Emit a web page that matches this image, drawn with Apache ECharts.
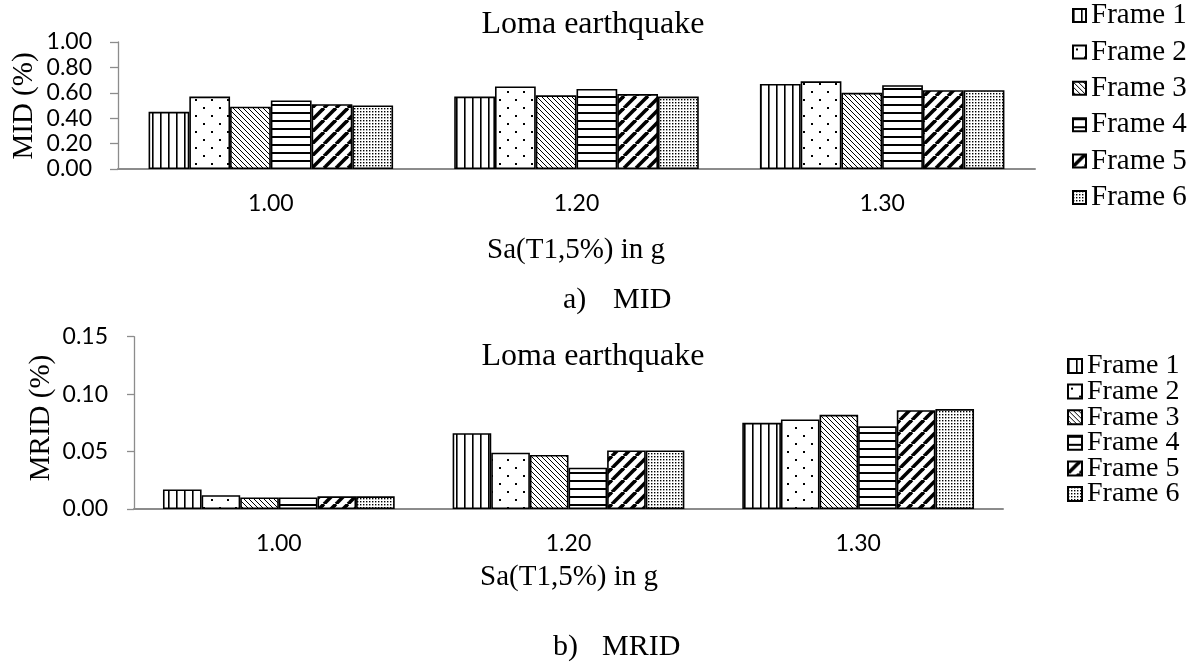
<!DOCTYPE html>
<html>
<head>
<meta charset="utf-8">
<script src="https://cdn.jsdelivr.net/npm/echarts@6/dist/echarts.min.js"></script>
<style>
  html, body { margin: 0; padding: 0; background: #fff; }
  #chart { width: 1200px; height: 664px; }
</style>
</head>
<body>
<div id="chart"></div>
<script>
// Shaking intensity levels (category axis)
const categories = ['1.00', '1.20', '1.30'];
const frames = ['Frame 1', 'Frame 2', 'Frame 3', 'Frame 4', 'Frame 5', 'Frame 6'];

// Maximum inter-storey drift, MID (%)
const midFrame1 = [0.45, 0.57, 0.67];
const midFrame2 = [0.57, 0.65, 0.69];
const midFrame3 = [0.49, 0.58, 0.60];
const midFrame4 = [0.54, 0.63, 0.66];
const midFrame5 = [0.51, 0.59, 0.62];
const midFrame6 = [0.50, 0.57, 0.62];

// Maximum residual inter-storey drift, MRID (%)
const mridFrame1 = [0.017, 0.066, 0.075];
const mridFrame2 = [0.012, 0.049, 0.078];
const mridFrame3 = [0.010, 0.047, 0.082];
const mridFrame4 = [0.010, 0.036, 0.072];
const mridFrame5 = [0.011, 0.051, 0.086];
const mridFrame6 = [0.011, 0.051, 0.087];

// Y tick settings
const midTicks = { min: 0, max: 1.0, interval: 0.2 };
const mridTicks = { min: 0, max: 0.15, interval: 0.05 };

const midData = [midFrame1, midFrame2, midFrame3, midFrame4, midFrame5, midFrame6];
const mridData = [mridFrame1, mridFrame2, mridFrame3, mridFrame4, mridFrame5, mridFrame6];

// ---- monochrome hatch fills, one per frame ----
function tile(size, draw) {
  const c = document.createElement('canvas');
  c.width = size; c.height = size;
  const g = c.getContext('2d');
  g.fillStyle = '#fff';
  g.fillRect(0, 0, size, size);
  g.fillStyle = '#000';
  g.strokeStyle = '#000';
  draw(g, size);
  return { image: c, repeat: 'repeat' };
}
const fills = [
  // vertical lines
  tile(8, (g, s) => { g.fillRect(0, 0, 1.6, s); }),
  // sparse staggered dots
  tile(16, (g, s) => { g.fillRect(3, 3, 2, 2); g.fillRect(11, 11, 2, 2); }),
  // thin back-diagonal lines
  tile(5, (g, s) => {
    g.lineWidth = 1;
    for (let k = -1; k <= 1; k++) { g.beginPath(); g.moveTo(k * s, 0); g.lineTo(k * s + s, s); g.stroke(); }
  }),
  // horizontal lines
  tile(8, (g, s) => { g.fillRect(0, 0, s, 2); }),
  // thick forward-diagonal lines
  tile(12, (g, s) => {
    g.lineWidth = 3.6;
    for (let k = -1; k <= 1; k++) { g.beginPath(); g.moveTo(k * s, s); g.lineTo(k * s + s, 0); g.stroke(); }
  }),
  // fine dot grid
  tile(3, (g, s) => { g.fillRect(0, 0, 1.4, 1.4); })
];

const serif = '"Liberation Serif", "Times New Roman", serif';
const sans = 'Lato, "Liberation Sans", sans-serif';
const axisGray = '#8c8c8c';

function makeSeries(data, idx) {
  return data.map((vals, i) => ({
    name: frames[i],
    type: 'bar',
    xAxisIndex: idx,
    yAxisIndex: idx,
    barGap: '0%',
    barCategoryGap: '20%',
    data: vals,
    itemStyle: { color: fills[i], borderColor: '#000', borderWidth: 1.6 },
    emphasis: { disabled: true },
    animation: false
  }));
}

function yAxis(idx, t, tickLen) {
  return {
    type: 'value', gridIndex: idx, min: t.min, max: t.max, interval: t.interval,
    axisLine: { show: true, lineStyle: { color: axisGray, width: 1.3 } },
    axisTick: { show: true, length: tickLen, lineStyle: { color: axisGray, width: 1.3 } },
    splitLine: { show: false },
    axisLabel: { margin: 26, color: '#000', fontFamily: sans, fontSize: 23, formatter: v => v.toFixed(2) }
  };
}
function xAxis(idx) {
  return {
    type: 'category', gridIndex: idx, data: categories,
    axisLine: { show: true, lineStyle: { color: axisGray, width: 2 } },
    axisTick: { show: false },
    axisLabel: { margin: 23, color: '#000', fontFamily: sans, fontSize: 23 }
  };
}

function txt(x, y, text, size, opts) {
  return Object.assign({
    type: 'text', x: x, y: y, silent: true,
    style: {
      text: text, fill: '#000', fontFamily: serif, fontSize: size,
      font: size + 'px ' + serif,
      align: 'center', verticalAlign: 'middle',
      textAlign: 'center', textVerticalAlign: 'middle'
    }
  }, opts || {});
}
function txtLeft(x, y, text, size) {
  const t = txt(x, y, text, size);
  t.style.align = 'left'; t.style.textAlign = 'left';
  return t;
}

const chart = echarts.init(document.getElementById('chart'), null, { renderer: 'canvas' });
chart.setOption({
  animation: false,
  backgroundColor: '#fff',
  grid: [
    { left: 118, right: 165, top: 42, bottom: 495 },
    { left: 134, right: 197, top: 336.7, bottom: 155 }
  ],
  xAxis: [xAxis(0), xAxis(1)],
  yAxis: [yAxis(0, midTicks, 8), yAxis(1, mridTicks, 7)],
  legend: [
    {
      data: frames, orient: 'vertical', left: 1072, top: 1, padding: 0,
      icon: 'rect', itemWidth: 13, itemHeight: 13, itemGap: 7.4,
      selectedMode: false,
      textStyle: { fontFamily: serif, fontSize: 29, color: '#000' }
    },
    {
      data: frames, orient: 'vertical', left: 1067, top: 352, padding: 0,
      icon: 'rect', itemWidth: 14, itemHeight: 14, itemGap: -2.4,
      selectedMode: false,
      textStyle: { fontFamily: serif, fontSize: 28, color: '#000' }
    }
  ],
  graphic: [
    txt(593, 25, 'Loma earthquake', 32),
    txt(576, 250, 'Sa(T1,5%) in g', 29),
    txt(24, 106, 'MID (%)', 29, { rotation: Math.PI / 2 }),
    txtLeft(563, 300, 'a)', 30),
    txtLeft(613, 300, 'MID', 30),
    txt(593, 357, 'Loma earthquake', 32),
    txt(569, 577, 'Sa(T1,5%) in g', 29),
    txt(41, 418, 'MRID (%)', 29, { rotation: Math.PI / 2 }),
    txtLeft(553, 647, 'b)', 30),
    txtLeft(602, 647, 'MRID', 30)
  ],
  series: makeSeries(midData, 0).concat(makeSeries(mridData, 1))
});
</script>
</body>
</html>
